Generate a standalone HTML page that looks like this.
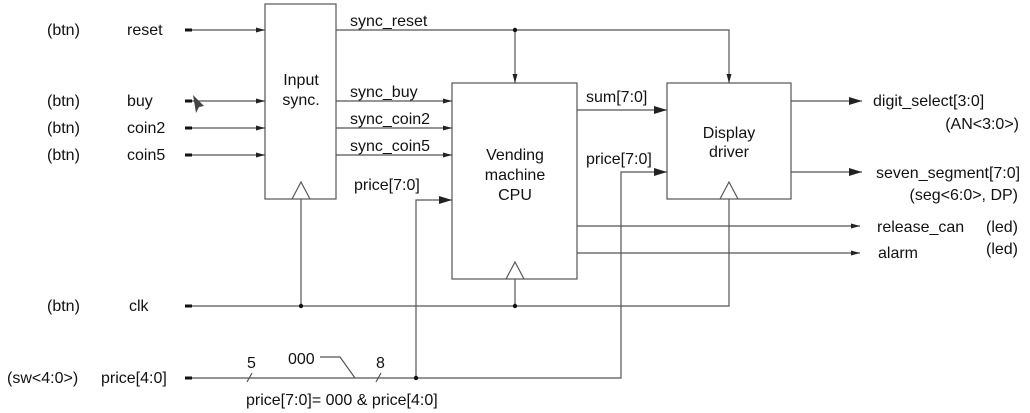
<!DOCTYPE html>
<html><head><style>body{margin:0;background:#fff}svg{display:block}text{font-family:"Liberation Sans",sans-serif;font-size:16px;fill:#111}</style></head><body>
<svg width="1030" height="413" viewBox="0 0 1030 413">
<defs>
<marker id="a" markerWidth="10" markerHeight="8" refX="9" refY="4" orient="auto" markerUnits="userSpaceOnUse"><path d="M0,1.5L9,4L0,6.5z" fill="#222"/></marker>
<marker id="b" markerWidth="14" markerHeight="10" refX="13" refY="5" orient="auto" markerUnits="userSpaceOnUse"><path d="M0,1L13,5L0,9z" fill="#222"/></marker>
</defs>
<g stroke="#555" stroke-width="1.2" fill="none">
<rect x="265" y="4" width="71" height="195"/>
<rect x="452" y="83" width="125" height="196"/>
<rect x="667" y="83" width="124" height="116"/>
<path d="M292,199L301,182L310,199M506,279L515,262L524,279M720,199L729,182L738,199"/>
<line x1="190" y1="30" x2="265" y2="30" marker-end="url(#a)"/>
<line x1="190" y1="101" x2="265" y2="101" marker-end="url(#a)"/>
<line x1="190" y1="128" x2="265" y2="128" marker-end="url(#a)"/>
<line x1="190" y1="155" x2="265" y2="155" marker-end="url(#a)"/>
<path d="M336,30H729V83" marker-end="url(#a)"/>
<line x1="515" y1="30" x2="515" y2="83" marker-end="url(#a)"/>
<line x1="336" y1="101" x2="452" y2="101" marker-end="url(#a)"/>
<line x1="336" y1="128" x2="452" y2="128" marker-end="url(#a)"/>
<line x1="336" y1="155" x2="452" y2="155" marker-end="url(#a)"/>
<path d="M416,378V200H452" marker-end="url(#b)"/>
<line x1="577" y1="110" x2="667" y2="110" marker-end="url(#b)"/>
<path d="M186,378H621V172H667" marker-end="url(#b)"/>
<line x1="791" y1="101" x2="862" y2="101" marker-end="url(#b)"/>
<line x1="791" y1="172" x2="862" y2="172" marker-end="url(#b)"/>
<line x1="577" y1="226" x2="860" y2="226" marker-end="url(#a)"/>
<line x1="577" y1="253" x2="860" y2="253" marker-end="url(#a)"/>
<path d="M186,306H729V199M301,306V199M515,306V279"/>
<path d="M320,357H340L355,378M247,382L252,373M376,382L381,373"/>
</g>
<g fill="#111">
<rect x="185" y="28.5" width="7" height="3"/><rect x="185" y="99.5" width="7" height="3"/><rect x="185" y="126.5" width="7" height="3"/><rect x="185" y="153.5" width="7" height="3"/><rect x="185" y="304.5" width="7" height="3"/><rect x="185" y="376.5" width="7" height="3"/>
<circle cx="515" cy="30" r="2.2"/><circle cx="301" cy="306" r="2.2"/><circle cx="515" cy="306" r="2.2"/><circle cx="416" cy="378" r="2.2"/>
<path d="M193,95L204,106L199,107L196,113Z" fill="#444"/>
</g>
<text x="47" y="35">(btn)</text><text x="127" y="35">reset</text>
<text x="47" y="106">(btn)</text><text x="127" y="106">buy</text>
<text x="47" y="133">(btn)</text><text x="127" y="133">coin2</text>
<text x="47" y="160">(btn)</text><text x="127" y="160">coin5</text>
<text x="47" y="311">(btn)</text><text x="129" y="311">clk</text>
<text x="7" y="383">(sw&lt;4:0&gt;)</text><text x="101" y="383">price[4:0]</text>
<text x="301" y="85" text-anchor="middle">Input</text><text x="301" y="105" text-anchor="middle">sync.</text>
<text x="350" y="26">sync_reset</text><text x="350" y="97">sync_buy</text><text x="350" y="124">sync_coin2</text><text x="350" y="151">sync_coin5</text>
<text x="354" y="190">price[7:0]</text>
<text x="515" y="160" text-anchor="middle">Vending</text><text x="515" y="180" text-anchor="middle">machine</text><text x="515" y="200" text-anchor="middle">CPU</text>
<text x="586" y="102">sum[7:0]</text><text x="586" y="164">price[7:0]</text>
<text x="729" y="138" text-anchor="middle">Display</text><text x="729" y="157" text-anchor="middle">driver</text>
<text x="873" y="106">digit_select[3:0]</text><text x="1019" y="129" text-anchor="end">(AN&lt;3:0&gt;)</text>
<text x="876" y="178">seven_segment[7:0]</text><text x="1018" y="200" text-anchor="end">(seg&lt;6:0&gt;, DP)</text>
<text x="877" y="232">release_can</text><text x="1018" y="232" text-anchor="end">(led)</text>
<text x="878" y="258">alarm</text><text x="1018" y="254" text-anchor="end">(led)</text>
<text x="247" y="368">5</text><text x="288" y="364">000</text><text x="376" y="368">8</text>
<text x="246" y="405">price[7:0]= 000 &amp; price[4:0]</text>
</svg>
</body></html>
